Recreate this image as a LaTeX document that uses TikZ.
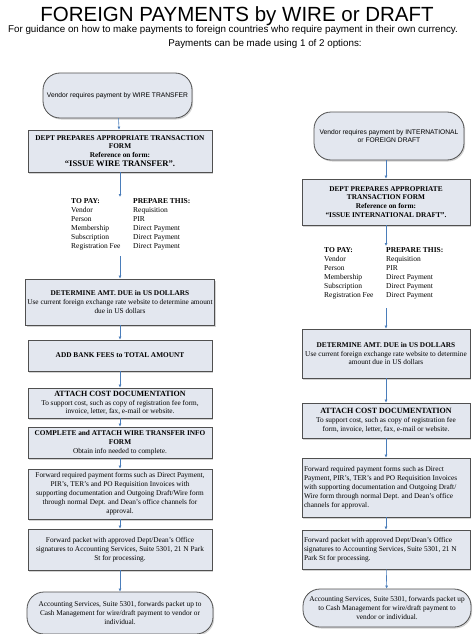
\documentclass[tikz,border=0pt]{standalone}
\usepackage{fontspec}
\setmainfont{Liberation Serif}
\setsansfont{Liberation Sans}
\usetikzlibrary{arrows.meta, shadows, positioning}

\definecolor{boxfill}{HTML}{E3E7EF}
\definecolor{boxline}{HTML}{505050}
\definecolor{flowblue}{HTML}{4A7DBA}

\begin{document}
\begin{tikzpicture}[
		x=1pt, y=-1pt,
		% Style for the process boxes
		stepbox/.style={
			draw=boxline, line width=0.8pt, fill=boxfill,
			drop shadow={shadow xshift=1.2pt, shadow yshift=-1.5pt, opacity=0.35},
			align=center, inner sep=2pt,
			font=\fontsize{7.3}{8.9}\selectfont
		},
		% Start and end of each flow
		terminal/.style={stepbox, rounded corners=17pt},
		% Two-column payment list
		pay table/.style={inner sep=0pt, font=\fontsize{7.5}{9}\selectfont},
		% Connectors
		flow/.style={draw=flowblue, line width=0.6pt, -{Latex[length=3pt, width=3pt]}},
		% Title & Text
		mainTitle/.style={font=\sffamily\fontsize{20.5}{24}\selectfont},
		intro text/.style={font=\sffamily\fontsize{9.8}{12}\selectfont}
		]
		\useasboundingbox (0,0) rectangle (474,634);
		
		% ==============================================================================
		% HEADER
		% ==============================================================================
		\node[mainTitle] (title) at (237,16) {FOREIGN PAYMENTS by WIRE or DRAFT};
		\node[intro text] (intro) at (233,30) {For guidance on how to make payments to foreign countries who require payment in their own currency.};
		\node[intro text] (options) at (265,44) {Payments can be made using 1 of 2 options:};
		
		% ==============================================================================
		% LEFT: WIRE TRANSFER
		% ==============================================================================
		\node[terminal, font=\sffamily\fontsize{6.7}{8.5}\selectfont, minimum width=149pt, minimum height=45pt] (wStart) at (117.5,95.5) {Vendor requires payment by WIRE TRANSFER};
		
		\node[stepbox, minimum width=184pt, minimum height=42pt] (wForm) at (120,151) {
				\textbf{DEPT PREPARES APPROPRIATE TRANSACTION}\\
				\textbf{FORM}\\
				\textbf{Reference on form:}\\
				{\fontsize{8.6}{10}\selectfont\bfseries “ISSUE WIRE TRANSFER”.}
			};
		
		\node[pay table, anchor=north west] (wTable) at (71,197) {
				\begin{tabular}{@{}p{62pt}@{}l@{}}
					\textbf{TO PAY:} & \textbf{PREPARE THIS:}\\
					Vendor & Requisition\\
					Person & PIR\\
					Membership & Direct Payment\\
					Subscription & Direct Payment\\
					Registration Fee & Direct Payment
				\end{tabular}
			};
		
		\node[stepbox, minimum width=184pt, minimum height=46pt] (wAmount) at (120,302) {
				\textbf{DETERMINE AMT. DUE in US DOLLARS}\\
				Use current foreign exchange rate website to determine amount\\
				due in US dollars
			};
		
		\node[stepbox, minimum width=184pt, minimum height=31pt] (wFees) at (120,355.5) {\textbf{ADD BANK FEES to TOTAL AMOUNT}};
		
		\node[stepbox, minimum width=184pt, minimum height=30pt] (wCost) at (120,403) {
				{\fontsize{8}{9.5}\selectfont\bfseries ATTACH COST DOCUMENTATION}\\
				To support cost, such as copy of registration fee form,\\
				invoice, letter, fax, e-mail or website.
			};
		
		\node[stepbox, minimum width=184pt, minimum height=31pt] (wInfo) at (120,442.5) {
				\textbf{COMPLETE and ATTACH WIRE TRANSFER INFO}\\
				\textbf{FORM}\\
				Obtain info needed to complete.
			};
		
		\node[stepbox, minimum width=184pt, minimum height=50pt] (wForward) at (120,494) {
				Forward required payment forms such as Direct Payment,\\
				PIR’s, TER’s and PO Requisition Invoices with\\
				supporting documentation and Outgoing Draft/Wire form\\
				through normal Dept. and Dean’s office channels for\\
				approval.
			};
		
		\node[stepbox, minimum width=184pt, minimum height=41pt] (wPacket) at (120,549.5) {
				Forward packet with approved Dept/Dean’s Office\\
				signatures to Accounting Services, Suite 5301, 21 N Park\\
				St for processing.
			};
		
		\node[terminal, minimum width=186pt, minimum height=42pt] (wEnd) at (120,613) {
				Accounting Services, Suite 5301, forwards packet up to\\
				Cash Management for wire/draft payment to vendor or\\
				individual.
			};
		
		\draw[flow] (wStart) -- (wForm);
		\draw[flow] (wForm) -- (wForm |- wTable.north);
		\draw[flow, shorten <=5pt] (wTable.south -| wAmount) -- (wAmount);
		\draw[flow] (wAmount) -- (wFees);
		\draw[flow] (wFees) -- (wCost);
		\draw[flow] (wCost) -- (wInfo);
		\draw[flow] (wInfo) -- (wForward);
		\draw[flow] (wForward) -- (wPacket);
		\draw[flow] (wPacket) -- (wEnd);
		
		% ==============================================================================
		% RIGHT: INTERNATIONAL or FOREIGN DRAFT
		% ==============================================================================
		\node[terminal, font=\sffamily\fontsize{6.7}{8.5}\selectfont, minimum width=150pt, minimum height=48pt] (dStart) at (389,136) {
				Vendor requires payment by INTERNATIONAL\\
				or FOREIGN DRAFT
			};
		
		\node[stepbox, minimum width=168pt, minimum height=46pt] (dForm) at (386,202) {
				\textbf{DEPT PREPARES APPROPRIATE}\\
				\textbf{TRANSACTION FORM}\\
				\textbf{Reference on form:}\\
				\textbf{“ISSUE INTERNATIONAL DRAFT”.}
			};
		
		\node[pay table, anchor=north west] (dTable) at (324,246) {
				\begin{tabular}{@{}p{62pt}@{}l@{}}
					\textbf{TO PAY:} & \textbf{PREPARE THIS:}\\
					Vendor & Requisition\\
					Person & PIR\\
					Membership & Direct Payment\\
					Subscription & Direct Payment\\
					Registration Fee & Direct Payment
				\end{tabular}
			};
		
		\node[stepbox, minimum width=168pt, minimum height=49pt] (dAmount) at (386,353.5) {
				\textbf{DETERMINE AMT. DUE in US DOLLARS}\\
				Use current foreign exchange rate website to determine\\
				amount due in US dollars
			};
		
		\node[stepbox, minimum width=168pt, minimum height=35pt] (dCost) at (386,420.5) {
				{\fontsize{8}{9.5}\selectfont\bfseries ATTACH COST DOCUMENTATION}\\
				To support cost, such as copy of registration fee\\
				form, invoice, letter, fax, e-mail or website.
			};
		
		\node[stepbox, align=flush left, text width=164pt, minimum height=59pt] (dForward) at (386,487.5) {
				Forward required payment forms such as Direct\\
				Payment, PIR’s, TER’s and PO Requisition Invoices\\
				with supporting documentation and Outgoing Draft/\\
				Wire form through normal Dept. and Dean’s office\\
				channels for approval.
			};
		
		\node[stepbox, align=flush left, text width=164pt, minimum height=39pt] (dPacket) at (386,549.5) {
				Forward packet with approved Dept/Dean’s Office\\
				signatures to Accounting Services, Suite 5301, 21 N\\
				Park St for processing.
			};
		
		\node[terminal, minimum width=168pt, minimum height=38pt] (dEnd) at (387,608) {
				Accounting Services, Suite 5301, forwards packet up\\
				to Cash Management for wire/draft payment to\\
				vendor or individual.
			};
		
		\draw[flow] (dStart.south -| dForm) -- (dForm);
		\draw[flow] (dForm) -- (dForm |- dTable.north);
		\draw[flow, shorten <=8pt] (dTable.south -| dAmount) -- (dAmount);
		\draw[flow] (dAmount) -- (dCost);
		\draw[flow] (dCost) -- (dForward);
		\draw[flow] (dForward) -- (dPacket);
		\draw[flow] (dPacket) -- (dEnd);
	\end{tikzpicture}
\end{document}
